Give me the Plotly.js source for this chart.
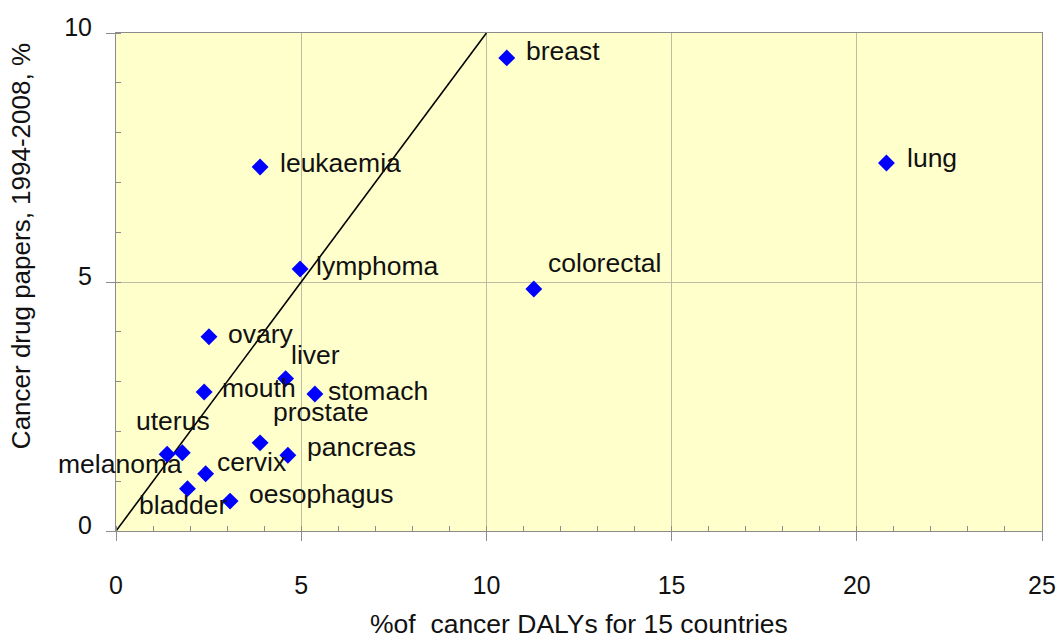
<!DOCTYPE html>
<html>
<head>
<meta charset="utf-8">
<script src="https://cdn.plot.ly/plotly-3.0.1.min.js"></script>
<style>html,body{margin:0;padding:0;background:#fff;}#chart{width:1060px;height:641px;}</style>
</head>
<body>
<div id="chart"></div>
<script>
// ---- data ----
var cancers = ['breast','lung','leukaemia','lymphoma','colorectal','ovary','liver','mouth','stomach','prostate','pancreas','uterus','melanoma','cervix','bladder','oesophagus'];
var dalyShare = [10.55, 20.8, 3.89, 4.97, 11.28, 2.51, 4.58, 2.38, 5.37, 3.89, 4.64, 1.79, 1.38, 2.42, 1.93, 3.08];
var paperShare = [9.5, 7.39, 7.31, 5.26, 4.86, 3.9, 3.06, 2.79, 2.75, 1.77, 1.52, 1.57, 1.54, 1.15, 0.85, 0.6];
var parityX = [0, 10];
var parityY = [0, 10];
var xTicks = [0, 5, 10, 15, 20, 25];
var yTicks = [0, 5, 10];

// ---- label placement (pixel offsets from each point) ----
var labelPlace = {
  breast:[17,7,'left'], lung:[19,5,'left'], leukaemia:[18,4,'left'], lymphoma:[14,3,'left'],
  colorectal:[12,26,'left'], ovary:[17,3,'left'], liver:[3,24,'left'], mouth:[16,4,'left'],
  stomach:[11,3,'left'], prostate:[11,31,'left'], pancreas:[17,8,'left'], uterus:[-9,32,'center'],
  melanoma:[17,-10,'right'], cervix:[9,12,'left'], bladder:[-4,-16,'center'], oesophagus:[17,7,'left']
};

var FONT = 'Liberation Sans, Arial, Helvetica, sans-serif';
var annotations = cancers.map(function(c, i){
  var p = labelPlace[c];
  return {x: dalyShare[i], y: paperShare[i], xref:'x', yref:'y', text: c, showarrow:false,
    xanchor: p[2], yanchor:'middle', xshift: p[0], yshift: p[1],
    font:{family:FONT, size:26.5, color:'#111'}};
});
annotations.push({text:'Cancer drug papers, 1994-2008, %', xref:'paper', yref:'paper',
  x:-0.1026, y:0.572, xanchor:'center', yanchor:'middle', textangle:-90, showarrow:false,
  font:{family:FONT, size:26, color:'#111'}});
annotations.push({text:'%of  cancer DALYs for 15 countries', xref:'paper', yref:'paper',
  x:0.5, y:-0.186, xanchor:'center', yanchor:'middle', showarrow:false,
  font:{family:FONT, size:26.5, color:'#111'}});

var traces = [
  {x: parityX, y: parityY, mode:'lines', line:{color:'#000', width:1.6}, hoverinfo:'skip', showlegend:false},
  {x: dalyShare, y: paperShare, text: cancers, mode:'markers', type:'scatter',
   marker:{symbol:'diamond', size:13, color:'#0000ff'}, showlegend:false, cliponaxis:false}
];

var layout = {
  width:1060, height:641,
  margin:{l:116, r:18, t:33, b:110},
  paper_bgcolor:'#ffffff', plot_bgcolor:'#ffffcc',
  showlegend:false,
  font:{family:FONT, color:'#111'},
  xaxis:{range:[0,25], tickvals:xTicks, ticktext:xTicks.map(String), showgrid:true, gridcolor:'#bdbda6', gridwidth:1,
    zeroline:false, showline:true, linecolor:'#8c8c8c', linewidth:1, mirror:true,
    ticks:'outside', ticklen:9, tickcolor:'#8c8c8c', ticklabelstandoff:23,
    tickfont:{family:FONT, size:25, color:'#111'},
    minor:{dtick:1, ticks:'inside', ticklen:5, tickcolor:'#8c8c8c', showgrid:false}},
  yaxis:{range:[0,10], tickvals:yTicks, ticktext:yTicks.map(String), showgrid:true, gridcolor:'#bdbda6', gridwidth:1,
    zeroline:false, showline:true, linecolor:'#8c8c8c', linewidth:1, mirror:true,
    ticks:'outside', ticklen:9, tickcolor:'#8c8c8c', ticklabelstandoff:9, ticklabelshift:-6,
    tickfont:{family:FONT, size:25, color:'#111'},
    minor:{dtick:1, ticks:'inside', ticklen:5, tickcolor:'#8c8c8c', showgrid:false}},
  annotations: annotations
};

Plotly.newPlot('chart', traces, layout, {displayModeBar:false, staticPlot:true});
</script>
</body>
</html>
